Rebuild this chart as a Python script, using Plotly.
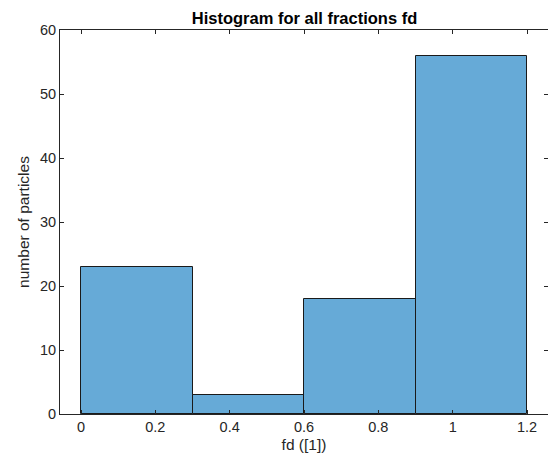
import plotly.graph_objects as go

bin_edges = [0.0, 0.3, 0.6, 0.9, 1.2]
counts = [23, 3, 18, 56]
x_ticks = [0, 0.2, 0.4, 0.6, 0.8, 1.0, 1.2]
x_tick_labels = ["0", "0.2", "0.4", "0.6", "0.8", "1", "1.2"]
y_ticks = [0, 10, 20, 30, 40, 50, 60]

centers = [(a + b) / 2 for a, b in zip(bin_edges[:-1], bin_edges[1:])]
widths = [b - a for a, b in zip(bin_edges[:-1], bin_edges[1:])]

fig = go.Figure(go.Bar(
    x=centers, y=counts, width=widths,
    marker=dict(color="#66AAD7", line=dict(color="#1a1a1a", width=1)),
))
# invisible trace on a right-hand overlay axis, only to draw the mirrored ticks
fig.add_trace(go.Scatter(x=[centers[0]], y=[counts[0]], yaxis="y2", mode="markers",
                         marker=dict(opacity=0), hoverinfo="skip", showlegend=False))

font = "Liberation Sans, Arial, Helvetica, sans-serif"
tick_common = dict(
    showgrid=False, zeroline=False, ticks="inside", ticklen=4, tickwidth=1,
    tickcolor="#262626", tickfont=dict(family=font, size=14.5, color="#262626"),
)
fig.update_layout(
    width=548, height=459,
    margin=dict(l=60, r=0, t=30, b=45),
    paper_bgcolor="white", plot_bgcolor="white",
    showlegend=False,
    bargap=0,
    title=dict(text="<b>Histogram for all fractions fd</b>", x=304.5 / 548, xanchor="center",
               y=1 - 18 / 459, yanchor="middle",
               font=dict(family=font, size=16.5, color="black")),
    xaxis=dict(range=[-0.0565, 1.2565], tickvals=x_ticks, ticktext=x_tick_labels,
               showline=True, linecolor="#262626", linewidth=1, mirror="ticks",
               title=dict(text="fd ([1])", standoff=4,
                          font=dict(family=font, size=15.5, color="#262626")),
               **tick_common),
    yaxis=dict(range=[0, 60], tickvals=y_ticks,
               showline=True, linecolor="#262626", linewidth=1, mirror=False,
               title=dict(text="number of particles", standoff=6,
                          font=dict(family=font, size=15.5, color="#262626")),
               **tick_common),
    yaxis2=dict(range=[0, 60], tickvals=y_ticks, overlaying="y", side="right",
                showline=False, showticklabels=False, **tick_common),
)
fig.write_html("out.html")
